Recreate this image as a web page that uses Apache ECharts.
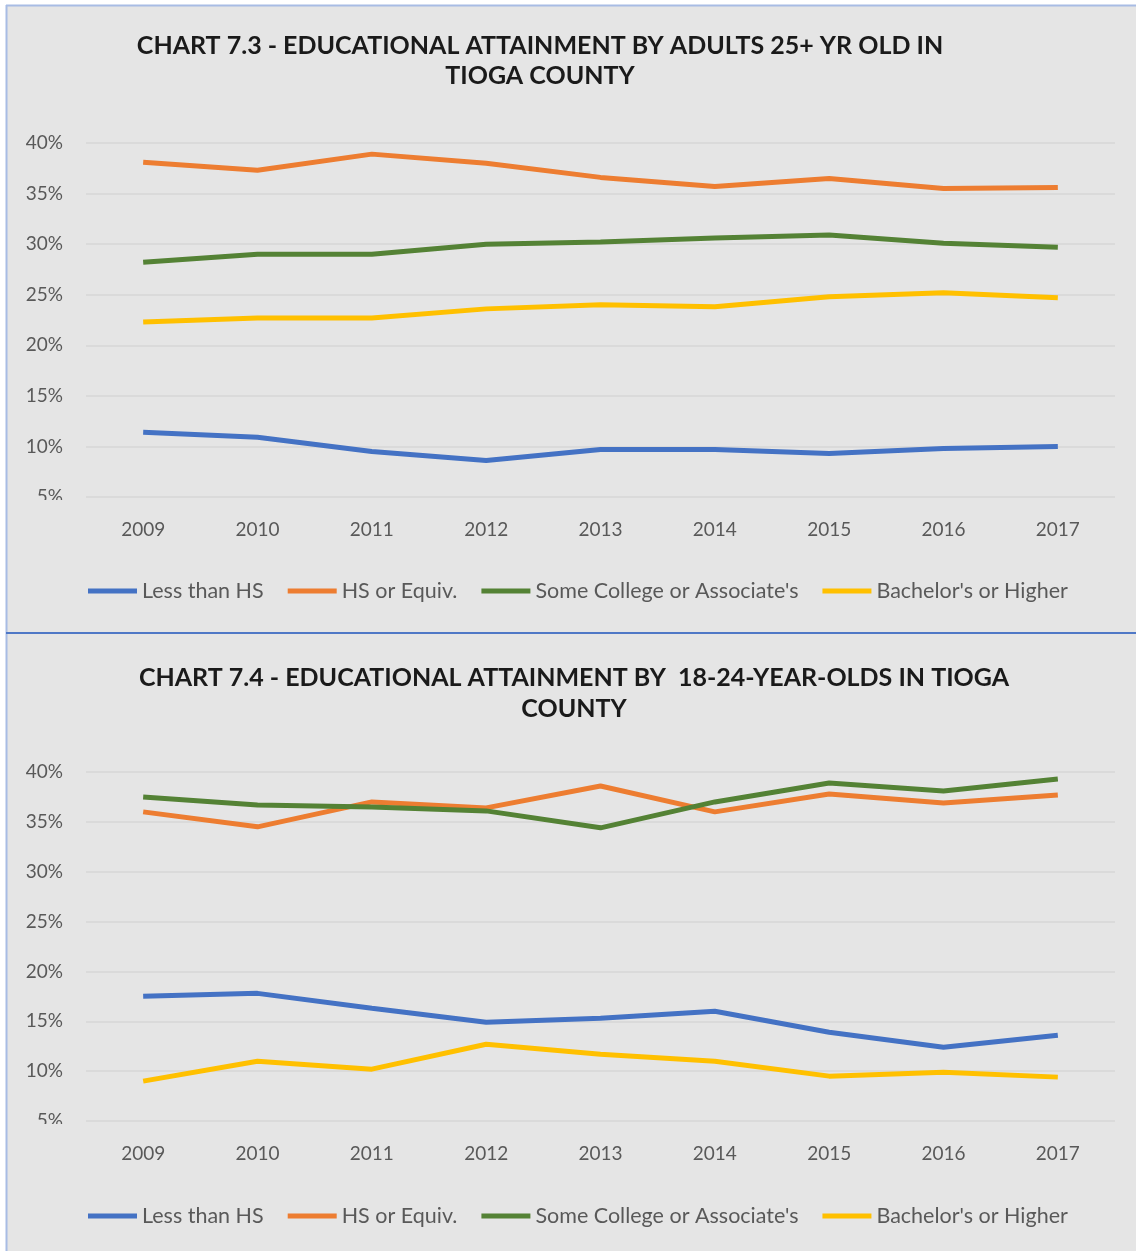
<!DOCTYPE html>
<html>
<head>
<meta charset="utf-8">
<script src="https://cdn.jsdelivr.net/npm/echarts@6/dist/echarts.min.js"></script>
<style>
  html, body { margin: 0; padding: 0; background: #fff; }
  #main { width: 1136px; height: 1251px; }
</style>
</head>
<body>
<div id="main"></div>
<script>
var years = ['2009', '2010', '2011', '2012', '2013', '2014', '2015', '2016', '2017'];
var seriesNames = ['Less than HS', 'HS or Equiv.', "Some College or Associate's", "Bachelor's or Higher"];
var colors = ['#4472c4', '#ed7d31', '#548235', '#ffc000'];

// chart 7.3 - adults 25+
var adultLessHS = [11.4, 10.9, 9.5, 8.6, 9.7, 9.7, 9.3, 9.8, 10.0];
var adultHS = [38.1, 37.3, 38.9, 38.0, 36.6, 35.7, 36.5, 35.5, 35.6];
var adultSomeCollege = [28.2, 29.0, 29.0, 30.0, 30.2, 30.6, 30.9, 30.1, 29.7];
var adultBachelor = [22.3, 22.7, 22.7, 23.6, 24.0, 23.8, 24.8, 25.2, 24.7];

// chart 7.4 - 18-24 year olds
var youngLessHS = [17.5, 17.8, 16.3, 14.9, 15.3, 16.0, 13.9, 12.4, 13.6];
var youngHS = [36.0, 34.5, 37.0, 36.4, 38.6, 36.0, 37.8, 36.9, 37.7];
var youngSomeCollege = [37.5, 36.7, 36.5, 36.1, 34.4, 37.0, 38.9, 38.1, 39.3];
var youngBachelor = [9.0, 11.0, 10.2, 12.7, 11.7, 11.0, 9.5, 9.9, 9.4];

var title1 = 'CHART 7.3 - EDUCATIONAL ATTAINMENT BY ADULTS 25+ YR OLD IN\nTIOGA COUNTY';
var title2 = 'CHART 7.4 - EDUCATIONAL ATTAINMENT BY  18-24-YEAR-OLDS IN TIOGA\nCOUNTY';

var bg = '#e5e5e5';
var font = 'Lato';
var gray = '#595959';

function xAxis(idx) {
    return {
        type: 'category',
        gridIndex: idx,
        data: years,
        boundaryGap: true,
        axisLine: {show: false},
        axisTick: {show: false},
        axisLabel: {color: gray, fontSize: 19, fontFamily: font, margin: 23}
    };
}

function yAxis(idx) {
    return {
        type: 'value',
        gridIndex: idx,
        min: 5,
        max: 40,
        interval: 5,
        axisLine: {show: false},
        axisTick: {show: false},
        axisLabel: {color: gray, fontSize: 19, fontFamily: font, margin: 23, formatter: '{value}%'},
        splitLine: {lineStyle: {color: '#d6d6d6', width: 1.5}}
    };
}

function line(name, data, idx, c) {
    return {
        name: name,
        type: 'line',
        xAxisIndex: idx,
        yAxisIndex: idx,
        data: data,
        symbol: 'none',
        lineStyle: {width: 5, color: c},
        itemStyle: {color: c}
    };
}

function legend(top) {
    return {
        data: seriesNames,
        left: 88,
        top: top,
        padding: 0,
        icon: 'rect',
        itemWidth: 49,
        itemHeight: 5,
        itemGap: 24,
        textStyle: {color: gray, fontSize: 21.5, fontFamily: font}
    };
}

var chart = echarts.init(document.getElementById('main'));
var option = {
    backgroundColor: bg,
    animation: false,
    title: [{
        text: title1,
        left: 540,
        top: 31,
        padding: 0,
        textAlign: 'center',
        textStyle: {fontSize: 25, fontWeight: 'bold', fontFamily: font, color: '#1a1a1a', lineHeight: 30}
    }, {
        text: title2,
        left: 574,
        top: 662,
        padding: 0,
        textAlign: 'center',
        textStyle: {fontSize: 25, fontWeight: 'bold', fontFamily: font, color: '#1a1a1a', lineHeight: 31}
    }],
    legend: [legend(580), legend(1205)],
    grid: [
        {left: 86, right: 21, top: 143, height: 354},
        {left: 86, right: 21, top: 772, height: 349}
    ],
    xAxis: [xAxis(0), xAxis(1)],
    yAxis: [yAxis(0), yAxis(1)],
    series: [
        line(seriesNames[0], adultLessHS, 0, colors[0]),
        line(seriesNames[1], adultHS, 0, colors[1]),
        line(seriesNames[2], adultSomeCollege, 0, colors[2]),
        line(seriesNames[3], adultBachelor, 0, colors[3]),
        line(seriesNames[0], youngLessHS, 1, colors[0]),
        line(seriesNames[1], youngHS, 1, colors[1]),
        line(seriesNames[2], youngSomeCollege, 1, colors[2]),
        line(seriesNames[3], youngBachelor, 1, colors[3])
    ],
    // page frame: white margin, light blue border, separator between the two pictures
    graphic: [
        {type: 'rect', shape: {x: 0, y: 0, width: 1136, height: 5}, style: {fill: '#fff'}, z: 100},
        {type: 'rect', shape: {x: 0, y: 0, width: 6, height: 1251}, style: {fill: '#fff'}, z: 100},
        {type: 'line', shape: {x1: 6, y1: 5.5, x2: 1136, y2: 5.5}, style: {stroke: '#a8bce4', lineWidth: 2}, z: 100},
        {type: 'line', shape: {x1: 6.5, y1: 5, x2: 6.5, y2: 1251}, style: {stroke: '#a8bce4', lineWidth: 2}, z: 100},
        {type: 'line', shape: {x1: 6, y1: 633, x2: 1136, y2: 633}, style: {stroke: '#4f78c6', lineWidth: 2}, z: 100},
        // the bottom tick label is cut off in the source picture
        {type: 'rect', shape: {x: 8, y: 500, width: 70, height: 14}, style: {fill: bg}, z: 100},
        {type: 'rect', shape: {x: 8, y: 1124, width: 70, height: 14}, style: {fill: bg}, z: 100}
    ]
};
chart.setOption(option);
</script>
</body>
</html>
